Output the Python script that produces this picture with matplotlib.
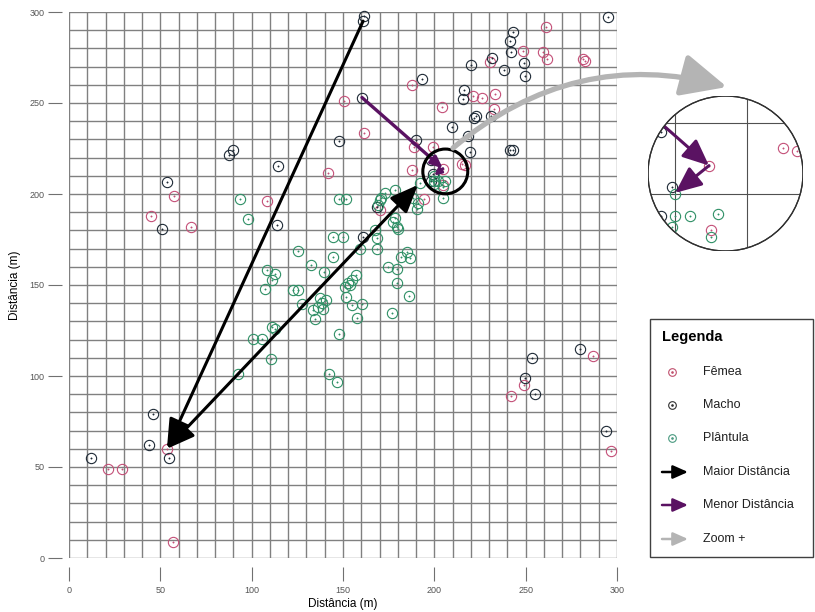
import matplotlib
matplotlib.use('Agg')
import matplotlib.pyplot as plt
from matplotlib.patches import Circle, Rectangle, FancyArrowPatch
import numpy as np

plt.rcParams['font.family'] = ['Liberation Sans', 'DejaVu Sans']

# Fêmea
femea_x = [261, 248.5, 259.4, 261.6, 281.3, 282.3, 230.4, 188, 221, 226, 233, 204, 232.6,
           189, 199, 188, 215, 217, 204.7, 150.5, 161.5, 142, 108.5, 57.5, 44.9, 66.8,
           53.6, 21.3, 29, 57, 286.8, 249, 242, 296.7, 170, 205, 194.5]
femea_y = [292, 278.6, 278, 274, 274, 273, 272.5, 260, 254, 253, 255, 248, 246.7,
           226, 226, 213, 216.5, 216, 214, 251, 233.5, 211.5, 196, 199, 188, 182,
           60, 49, 49, 8.8, 111, 95, 89, 58.8, 191, 205, 197.5]

# Macho
macho_x = [161.5, 161, 295, 243, 241.3, 242, 249, 249.6, 220, 231.5, 238, 193, 216, 215.6,
           222.8, 221.7, 231, 209.6, 218.4, 219.5, 241.4, 243.3, 190, 198, 147.8, 160.4,
           89.8, 87.6, 114.4, 113.8, 53.6, 50.9, 46, 43.8, 12, 54.7, 253.4, 279.7, 249.6,
           255, 294, 161, 168.6, 199.5, 198]
macho_y = [298, 295, 297, 289, 284, 278, 272, 265, 271, 275, 268, 263, 257, 252,
           243, 242, 243, 237, 232, 223, 224, 224, 229.5, 218.7, 229, 253,
           224, 221.4, 215.4, 183, 206.6, 181, 79, 62, 55, 55, 110, 115, 99,
           90, 70, 176.4, 193, 211, 207]

# Plântula
plantula_x = [93.6, 98, 100.7, 105.6, 92.5, 110.6, 142.3, 146.7, 147.8, 111, 112.8, 134.6,
              157.6, 176.8, 133.6, 136.3, 139, 138.5, 137.4, 140.7, 127.5, 151.6, 155,
              160.4, 122.6, 125.3, 107.3, 108.4, 112.8, 111, 151, 153, 155, 157, 153.8,
              139.6, 132.5, 144.5, 125.3, 159.3, 168.6, 144.5, 150, 167.5, 168.6, 174.6,
              179.5, 185, 186.6, 182, 186, 179.5, 178.4, 177.3, 179.5, 180, 147.8, 151.6,
              173, 171, 170, 169, 178.4, 188.3, 191, 190.5, 192, 205, 200, 200, 202, 206,
              199.6, 205]
plantula_y = [197, 186, 120.3, 120.3, 101, 109.3, 101, 96.7, 123, 127, 125.8, 131.3,
              132, 134.6, 136.3, 138, 137, 140, 142.9, 141.8, 139.6, 143.4, 139,
              139.6, 147.2, 147.2, 147.8, 158, 156, 153, 149, 151, 152.7, 155.5, 150,
              157, 161, 165.4, 168.7, 170, 170, 176.4, 176.4, 180, 175.8, 160,
              159, 168, 164.8, 165.4, 144, 151, 187, 184.6, 182, 181, 197, 197,
              200.5, 198, 196.7, 194, 202, 197.8, 195, 192, 206, 197.8, 210, 207, 207, 207.3,
              205.4, 204]

# setas
maior_1 = [(161, 295), (53.6, 60)]
maior_2 = [(191, 205), (53.6, 60)]
menor_1 = [(160.4, 253), (204.7, 214)]
menor_2 = [(204.7, 214), (200, 210.2)]

# zoom
zoom_centro = (207, 212.9)
zoom_raio = 10.8
circ_centro = (206, 212.4)
circ_raio = 12.3

cor_femea = '#c45078'
cor_macho = '#1e2a36'
cor_plantula = '#2f9066'
cor_roxo = '#5a1262'
cor_cinza = '#b4b4b4'


def desenha_pontos(ax, clip=None):
    arts = []
    for xs, ys, cor in [(femea_x, femea_y, cor_femea),
                        (macho_x, macho_y, cor_macho),
                        (plantula_x, plantula_y, cor_plantula)]:
        l1, = ax.plot(xs, ys, 'o', mfc='none', mec=cor, ms=7.4, mew=0.8, zorder=3, clip_on=clip is not None)
        l2, = ax.plot(xs, ys, 'o', mfc=cor, mec=cor, ms=1.0, mew=0.3, zorder=3, clip_on=clip is not None)
        arts += [l1, l2]
    return arts


def desenha_grade(ax, cor, lw):
    arts = []
    for v in range(0, 301, 10):
        arts.append(ax.plot([v, v], [0, 300], color=cor, lw=lw, zorder=1)[0])
        arts.append(ax.plot([0, 300], [v, v], color=cor, lw=lw, zorder=1)[0])
    return arts


def seta(ax, ini, fim, cor, lw, hl, hw, estilo='-|>'):
    a = FancyArrowPatch(ini, fim, arrowstyle='%s,head_length=%g,head_width=%g' % (estilo, hl, hw),
                        mutation_scale=1, color=cor, lw=lw, shrinkA=0, shrinkB=0, zorder=5)
    ax.add_patch(a)
    return a


fig = plt.figure(figsize=(8.15, 6.12), dpi=100)
ax = fig.add_axes([69 / 815, 54 / 612, 548 / 815, 546 / 612])
ax.set_xlim(0, 300)
ax.set_ylim(0, 300)

desenha_grade(ax, '#808080', 1.0)
desenha_pontos(ax)

seta(ax, maior_1[0], maior_1[1], 'black', 2.2, 18, 6.5)
seta(ax, maior_2[0], maior_2[1], 'black', 2.2, 17, 7, '<|-|>')
seta(ax, menor_1[0], menor_1[1], cor_roxo, 2.4, 7, 3)
seta(ax, menor_2[0], menor_2[1], cor_roxo, 2.0, 4, 2)

ax.add_patch(Circle(circ_centro, circ_raio, fill=False, ec='black', lw=2.2, zorder=6))

for s in ax.spines.values():
    s.set_visible(False)
ax.spines['left'].set_position(('outward', 5))
ax.spines['bottom'].set_position(('outward', 6.5))
ax.set_xticks(range(0, 301, 50))
ax.set_yticks(range(0, 301, 50))
ax.tick_params(axis='both', direction='out', length=10, width=0.8, color='#707070',
               labelsize=6.5, labelcolor='#555555')
ax.tick_params(axis='x', pad=3.5)
ax.tick_params(axis='y', pad=2.5)
ax.set_xlabel('Distância (m)', fontsize=8.5, labelpad=2)
ax.set_ylabel('Distância (m)', fontsize=8.5, labelpad=6)

# ampliação
axz = fig.add_axes([648 / 815, 361 / 612, 155 / 815, 155 / 612])
axz.set_xlim(zoom_centro[0] - zoom_raio, zoom_centro[0] + zoom_raio)
axz.set_ylim(zoom_centro[1] - zoom_raio, zoom_centro[1] + zoom_raio)
axz.axis('off')
borda = Circle((0.5, 0.5), 0.5, transform=axz.transAxes, fc='white', ec='#303030', lw=0.9, zorder=0)
axz.add_patch(borda)
arts = desenha_grade(axz, '#505050', 0.8) + desenha_pontos(axz, clip=True)
arts.append(seta(axz, menor_1[0], menor_1[1], cor_roxo, 2.2, 16, 7))
arts.append(seta(axz, menor_2[0], menor_2[1], cor_roxo, 2.2, 16, 7))
for a in arts:
    a.set_clip_path(borda)
axz.add_patch(Circle((0.5, 0.5), 0.5, transform=axz.transAxes, fill=False, ec='#303030', lw=0.9, zorder=7))

# camada em pixels para a seta cinza e a legenda
ov = fig.add_axes([0, 0, 1, 1], facecolor='none')
ov.set_xlim(0, 815)
ov.set_ylim(612, 0)
ov.axis('off')

ov.add_patch(FancyArrowPatch((453, 148), (727, 87), connectionstyle='arc3,rad=-0.26',
                             arrowstyle='-|>,head_length=28,head_width=13', mutation_scale=1,
                             color=cor_cinza, lw=3.8, shrinkA=0, shrinkB=0))

ov.add_patch(Rectangle((650, 319), 163, 238, fill=False, ec='#404040', lw=1.0))
ov.text(662, 337, 'Legenda', fontsize=10.5, fontweight='bold', va='center', ha='left')
itens = ['Fêmea', 'Macho', 'Plântula', 'Maior Distância', 'Menor Distância', 'Zoom +']
ys = [372, 405, 438, 472, 505, 539]
for nome, y in zip(itens, ys):
    ov.text(703, y, nome, fontsize=9, va='center', ha='left', color='#202020')
for cor, y in zip(['#c0506e', '#303030', '#4a9a80'], ys[:3]):
    ov.plot([672], [y], 'o', mfc='none', mec=cor, ms=5.5, mew=0.8)
    ov.plot([672], [y], 'o', mfc=cor, mec=cor, ms=0.9)
for cor, y in zip(['black', cor_roxo, cor_cinza], ys[3:]):
    seta(ov, (662, y), (688, y), cor, 1.8, 9, 4)

fig.savefig('out.png', dpi=100)
